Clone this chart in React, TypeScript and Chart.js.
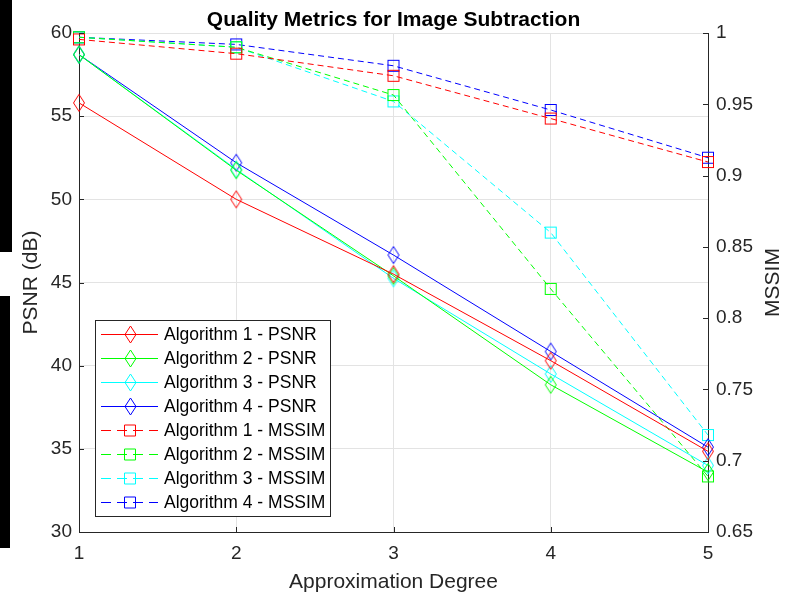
import React, { useEffect, useRef } from "react";
import { Chart, registerables } from "chart.js";
Chart.register(...registerables);

const degrees = [1, 2, 3, 4, 5];
const psnr1 = [55.8, 50.0, 45.5, 40.3, 34.85];
const psnr2 = [58.7, 51.75, 45.4, 38.85, 33.6];
const psnr3 = [58.7, 51.8, 45.25, 39.5, 34.0];
const psnr4 = [58.7, 52.2, 46.65, 40.85, 35.1];
const mssim1 = [0.9955, 0.9855, 0.97, 0.94, 0.9095];
const mssim2 = [0.997, 0.99, 0.9565, 0.8205, 0.689];
const mssim3 = [0.997, 0.99, 0.952, 0.86, 0.718];
const mssim4 = [0.997, 0.992, 0.977, 0.946, 0.9125];
const seriesLabels = [
  "Algorithm 1 - PSNR",
  "Algorithm 2 - PSNR",
  "Algorithm 3 - PSNR",
  "Algorithm 4 - PSNR",
  "Algorithm 1 - MSSIM",
  "Algorithm 2 - MSSIM",
  "Algorithm 3 - MSSIM",
  "Algorithm 4 - MSSIM",
];
const colors = ["#ff0000", "#00ff00", "#00ffff", "#0000ff"];
const titleText = "Quality Metrics for Image Subtraction";
const xTitle = "Approximation Degree";
const yTitle = "PSNR (dB)";
const y1Title = "MSSIM";

const FONT = "'Liberation Sans', Arial, sans-serif";
const AX = "#262626";

const pts = (vals: number[]) => degrees.map((d, i) => ({ x: d, y: vals[i] }));

function diamondPath(g: CanvasRenderingContext2D, cx: number, cy: number) {
  g.beginPath();
  g.moveTo(cx, cy - 8.5);
  g.lineTo(cx + 5.5, cy);
  g.lineTo(cx, cy + 8.5);
  g.lineTo(cx - 5.5, cy);
  g.closePath();
}

function makeMarker(color: string, kind: "diamond" | "square"): HTMLCanvasElement {
  const c = document.createElement("canvas");
  const g = c.getContext("2d")!;
  g.lineWidth = 1;
  if (kind === "diamond") {
    c.width = 14;
    c.height = 20;
    g.strokeStyle = color;
    g.lineWidth = 1;
    diamondPath(g, 7, 10);
    g.stroke();
  } else {
    c.width = 14;
    c.height = 14;
    g.strokeStyle = color;
    g.lineWidth = 1;
    g.strokeRect(1.5, 1.5, 11, 11);
  }
  return c;
}

export default function App() {
  const ref = useRef<HTMLCanvasElement>(null);
  useEffect(() => {
    document.body.style.margin = "0";
    const psnr = [psnr1, psnr2, psnr3, psnr4];
    const mssim = [mssim1, mssim2, mssim3, mssim4];
    const diamonds = colors.map((c) => makeMarker(c, "diamond"));
    const squares = colors.map((c) => makeMarker(c, "square"));
    const datasets: any[] = [];
    psnr.forEach((v, i) =>
      datasets.push({
        label: seriesLabels[i],
        data: pts(v),
        yAxisID: "y",
        borderColor: colors[i],
        backgroundColor: "rgba(0,0,0,0)",
        borderWidth: 1,
        pointStyle: diamonds[i],
        pointRadius: 6,
        clip: false,
        fill: false,
        tension: 0,
      })
    );
    mssim.forEach((v, i) =>
      datasets.push({
        label: seriesLabels[i + 4],
        data: pts(v),
        yAxisID: "y1",
        borderColor: colors[i],
        backgroundColor: "rgba(0,0,0,0)",
        borderWidth: 1,
        borderDash: [6, 4],
        pointStyle: squares[i],
        pointRadius: 6,
        clip: false,
        fill: false,
        tension: 0,
      })
    );

    const overlay = {
      id: "overlay",
      afterDraw(chart: any) {
        const ctx = chart.ctx as CanvasRenderingContext2D;
        const a = chart.chartArea;
        ctx.save();
        // inward tick marks
        ctx.strokeStyle = AX;
        ctx.lineWidth = 1;
        ctx.setLineDash([]);
        const sy = chart.scales.y, sy1 = chart.scales.y1, sx = chart.scales.x;
        ctx.beginPath();
        sy.ticks.forEach((t: any) => {
          const p = Math.round(sy.getPixelForValue(t.value)) + 0.5;
          ctx.moveTo(a.left, p);
          ctx.lineTo(a.left + 5, p);
        });
        sy1.ticks.forEach((t: any) => {
          const p = Math.round(sy1.getPixelForValue(t.value)) + 0.5;
          ctx.moveTo(a.right, p);
          ctx.lineTo(a.right - 5, p);
        });
        sx.ticks.forEach((t: any) => {
          const p = Math.round(sx.getPixelForValue(t.value)) + 0.5;
          ctx.moveTo(p, a.bottom);
          ctx.lineTo(p, a.bottom - 5);
        });
        ctx.stroke();

        // title
        ctx.fillStyle = "#000";
        ctx.font = `bold 21px ${FONT}`;
        ctx.textAlign = "center";
        ctx.textBaseline = "alphabetic";
        ctx.fillText(titleText, (a.left + a.right) / 2, 26);

        // axis titles
        ctx.fillStyle = AX;
        ctx.font = `21px ${FONT}`;
        ctx.fillText(xTitle, (a.left + a.right) / 2, 588);
        ctx.textBaseline = "middle";
        ctx.save();
        ctx.translate(31, (a.top + a.bottom) / 2);
        ctx.rotate(-Math.PI / 2);
        ctx.fillText(yTitle, 0, 0);
        ctx.restore();
        ctx.save();
        ctx.translate(773, (a.top + a.bottom) / 2);
        ctx.rotate(-Math.PI / 2);
        ctx.fillText(y1Title, 0, 0);
        ctx.restore();

        // legend
        const lx = 95, ly = 320, lw = 235, lh = 196;
        ctx.fillStyle = "#fff";
        ctx.fillRect(lx, ly, lw, lh);
        ctx.strokeStyle = AX;
        ctx.lineWidth = 1;
        ctx.strokeRect(lx + 0.5, ly + 0.5, lw, lh);
        ctx.font = `17.5px ${FONT}`;
        ctx.textAlign = "left";
        ctx.textBaseline = "middle";
        seriesLabels.forEach((label, i) => {
          const col = colors[i % 4];
          const dashed = i >= 4;
          const yy = Math.round(334 + i * 24) + 0.5;
          ctx.save();
          ctx.strokeStyle = col;
          ctx.lineWidth = 1;
          ctx.setLineDash(dashed ? [10, 6] : []);
          ctx.beginPath();
          ctx.moveTo(101, yy);
          ctx.lineTo(158, yy);
          ctx.stroke();
          ctx.setLineDash([]);
          ctx.strokeStyle = col;
          if (dashed) {
            ctx.beginPath();
            ctx.rect(124.5, yy - 5.5, 11, 11);
          } else {
            diamondPath(ctx, 130.5, yy);
          }
          ctx.stroke();
          ctx.restore();
          ctx.fillStyle = "#000";
          ctx.fillText(label, 164, yy + 1);
        });
        ctx.restore();
      },
    };

    const tickFont = { family: FONT, size: 19 };
    const chart = new Chart(ref.current!, {
      type: "line",
      data: { datasets },
      options: {
        responsive: false,
        animation: false,
        layout: { padding: { top: 33, left: 0, right: 0, bottom: 0 } },
        plugins: { legend: { display: false }, tooltip: { enabled: false }, title: { display: false } },
        scales: {
          x: {
            type: "linear",
            min: 1,
            max: 5,
            ticks: { stepSize: 1, font: tickFont, color: AX, padding: 10 },
            grid: { color: "#e3e3e3", drawTicks: false },
            border: { color: AX },
            afterFit: (s: any) => { s.height = 64; },
          },
          y: {
            type: "linear",
            position: "left",
            min: 30,
            max: 60,
            ticks: { stepSize: 5, font: tickFont, color: AX, padding: 7 },
            grid: { color: "#e3e3e3", drawTicks: false },
            border: { color: AX },
            afterFit: (s: any) => { s.width = 79; },
          },
          y1: {
            type: "linear",
            position: "right",
            min: 0.65,
            max: 1,
            ticks: {
              stepSize: 0.05,
              font: tickFont,
              color: AX,
              padding: 8,
              callback: (v: any) => String(Number(Number(v).toFixed(2))),
            },
            grid: { display: false, drawTicks: false },
            border: { color: AX },
            afterFit: (s: any) => { s.width = 84; },
          },
        },
      } as any,
      plugins: [overlay],
    });
    return () => chart.destroy();
  }, []);
  return (
    <div style={{ position: "relative", width: 792, height: 596, background: "#fff", overflow: "hidden" }}>
      <canvas ref={ref} width={792} height={596} style={{ display: "block" }} />
      <div style={{ position: "absolute", left: 0, top: 0, width: 12, height: 252, background: "#000" }} />
      <div style={{ position: "absolute", left: 0, top: 296, width: 10, height: 252, background: "#000" }} />
    </div>
  );
}
